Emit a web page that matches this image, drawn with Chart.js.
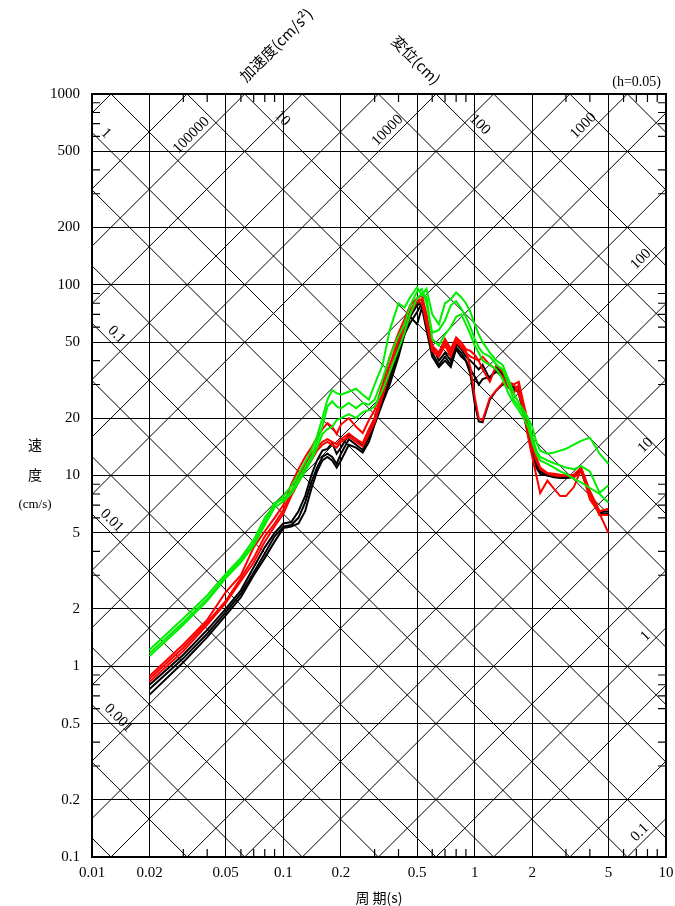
<!DOCTYPE html>
<html>
<head>
<meta charset="utf-8">
<script src="https://cdn.jsdelivr.net/npm/chart.js@4.4.0/dist/chart.umd.min.js"></script>
<style>
  html, body { margin: 0; padding: 0; background: #fff; }
  canvas { display: block; }
</style>
</head>
<body>
<canvas id="chart" width="675" height="906"></canvas>
<script>
// periods (s)
const periods = [0.02, 0.03, 0.04, 0.05, 0.06, 0.07, 0.08, 0.09, 0.1,
  0.11, 0.12, 0.13, 0.14, 0.15, 0.16, 0.17, 0.18, 0.19, 0.2,
  0.22, 0.24, 0.26, 0.28, 0.3,
  0.33, 0.36, 0.4, 0.43, 0.46,
  0.5, 0.53, 0.56, 0.6, 0.65,
  0.7, 0.75, 0.8, 0.85, 0.9,
  0.95, 1.0, 1.05, 1.1, 1.2,
  1.3, 1.4, 1.5, 1.6, 1.7,
  1.8, 1.9, 2.0, 2.1, 2.2,
  2.4, 2.6, 2.8, 3.0, 3.3,
  3.6, 4.0, 4.5, 5.0];

// velocity response (cm/s)
const green1 = [1.22, 1.78, 2.35, 3.05, 3.7, 4.6, 6.0, 7.0, 7.8,
  8.8, 10.2, 11.8, 13.5, 16, 20, 25, 28, 27, 26.5,
  27.5, 28.5, 26.5, 25, 30,
  38, 58, 80, 76, 86,
  97, 88, 95, 70, 62,
  80, 84, 91, 86, 80,
  72, 62, 55, 50, 44,
  40, 38, 32, 27, 24,
  22, 20, 18, 15, 13.5,
  13, 13.2, 13.5, 13.8, 14.5,
  15.2, 15.8, 13, 11.5];
const green2 = [1.17, 1.7, 2.25, 2.95, 3.6, 4.4, 5.7, 7.2, 7.5,
  8.3, 9.6, 11, 12.5, 15, 18, 23, 24.5, 23, 22.5,
  24, 22.5, 24, 23.5, 25,
  32, 42, 54, 62, 78,
  92, 95, 80, 56, 58,
  65, 78, 82, 75, 68,
  60, 52, 47, 44, 42,
  38, 36, 30, 25, 23,
  21, 19.5, 16, 13.5, 12.5,
  12, 11.6, 11.3, 11, 10.8,
  11.2, 10.5, 8.1, 8.9];
const green3 = [1.13, 1.65, 2.2, 2.9, 3.5, 4.3, 5.5, 6.8, 7.3,
  8, 9.2, 10.5, 12, 14, 16.5, 17.5, 18, 19.5, 20,
  21, 20, 21.5, 22, 23,
  28, 35, 46, 56, 70,
  85, 90, 86, 52, 48,
  55, 60, 68, 70, 62,
  55, 48, 44, 40, 38,
  36, 32, 27, 24, 22,
  20, 18, 15, 13, 12,
  11.5, 11, 10.5, 10.2, 9.6,
  9.2, 8.6, 8.0, 7.2];
const red1 = [0.89, 1.3, 1.75, 2.45, 3.0, 4.2, 5.1, 6.0, 7.0,
  9.0, 10.8, 12.5, 14, 15.8, 17.5, 18.8, 18, 16.5, 18.5,
  20, 18, 16.7, 19.5, 22,
  30, 42, 56, 66, 78,
  85, 88, 70, 48, 44,
  52, 46, 53, 50, 46,
  45, 43, 40, 36, 31,
  38, 35, 31, 30, 31,
  24, 19, 15, 12.5, 11,
  10.3, 10.2, 10.1, 10, 10.1,
  11, 8.3, 6.5, 6.7];
const red2 = [0.86, 1.25, 1.7, 2.2, 2.9, 3.7, 4.8, 5.6, 6.6,
  8.2, 9.8, 11.5, 13, 14, 15, 15.5, 15, 14.6, 15.5,
  16.6, 15.5, 14.8, 17.5, 20,
  28, 38, 52, 62, 74,
  83, 84, 65, 45, 42,
  48, 42, 50, 47, 44,
  42, 41, 40, 42, 38,
  36, 33, 29, 27, 30,
  22, 18, 14, 12, 10.8,
  10.2, 10, 9.9, 10, 9.8,
  10.5, 8, 6.2, 6.2];
const red3 = [0.83, 1.2, 1.65, 2.15, 2.8, 3.5, 4.5, 5.4, 6.3,
  7.8, 9.2, 10.8, 12, 13.5, 14.5, 15, 14.5, 14, 15,
  16, 15, 14.2, 16.5, 19,
  26, 35, 50, 58, 70,
  82, 80, 62, 46, 43,
  50, 44, 52, 48, 45,
  37, 26, 20, 19.5, 25.5,
  28, 30.5, 30, 30, 27,
  22, 16, 12.5, 10, 8.1,
  9.4, 8.5, 7.8, 7.8, 8.7,
  10.8, 7.5, 6.3, 5.0];
const black1 = [0.80, 1.15, 1.55, 2.0, 2.5, 3.3, 4.2, 5.0, 5.6,
  5.7, 6.5, 7.8, 10, 12, 13.5, 13.8, 14.8, 13, 14,
  16.4, 15.5, 14.3, 16.5, 20,
  27, 34, 48, 58, 68,
  78, 81, 68, 48, 40,
  44, 40, 49, 46, 42,
  40, 38, 36, 38, 32,
  37, 34, 30, 29, 29,
  22, 18, 14, 12, 10.8,
  10.2, 10.1, 10, 9.9, 10,
  10.8, 8.2, 6.4, 6.5];
const black2 = [0.76, 1.1, 1.48, 1.92, 2.4, 3.1, 3.9, 4.8, 5.4,
  5.5, 6.0, 7.2, 9.2, 11, 12.5, 13, 12.5, 11.5, 13,
  15.5, 14.5, 13.6, 15.8, 19,
  25, 32, 45, 55, 63,
  72, 80, 60, 44, 38,
  42, 38, 47, 44, 40,
  36, 33, 30, 32, 33,
  35, 33, 29, 28, 28,
  21, 17, 13.5, 11.5, 10.5,
  10, 9.9, 9.8, 9.8, 9.9,
  10.5, 8, 6.2, 6.3];
const black3 = [0.71, 1.05, 1.42, 1.85, 2.3, 3.0, 3.7, 4.5, 5.3,
  5.4, 5.6, 6.5, 8.5, 10.5, 12, 12.5, 12, 11, 12,
  14.5, 14, 13.2, 15, 18.5,
  24, 30, 42, 55, 68,
  62, 76, 58, 42, 37,
  40, 37, 46, 42, 40,
  34, 24, 19.2, 19, 25,
  28, 30, 30, 29, 27,
  21, 16.5, 13, 11, 10.2,
  10, 9.8, 9.7, 9.7, 9.8,
  10.6, 8.1, 6.3, 6.2];

// axes
const xTicks = [0.01, 0.02, 0.05, 0.1, 0.2, 0.5, 1, 2, 5, 10];
const xTickLabels = ['0.01', '0.02', '0.05', '0.1', '0.2', '0.5', '1', '2', '5', '10'];
const yTicks = [0.1, 0.2, 0.5, 1, 2, 5, 10, 20, 50, 100, 200, 500, 1000];
const yTickLabels = ['0.1', '0.2', '0.5', '1', '2', '5', '10', '20', '50', '100', '200', '500', '1000'];
const xMinorTicks = [0.03, 0.04, 0.06, 0.07, 0.08, 0.09, 0.3, 0.4, 0.6, 0.7, 0.8, 0.9, 3, 4, 6, 7, 8, 9];
const yMinorTicks = [0.3, 0.4, 0.6, 0.7, 0.8, 0.9, 3, 4, 6, 7, 8, 9, 30, 40, 60, 70, 80, 90, 300, 400, 600, 700, 800, 900];

// tripartite lines: displacement (cm) and acceleration (cm/s2)
const dispLines = [0.0001, 0.0002, 0.0005, 0.001, 0.002, 0.005, 0.01, 0.02, 0.05, 0.1, 0.2, 0.5,
  1, 2, 5, 10, 20, 50, 100, 200, 500, 1000];
const accLines = [0.1, 0.2, 0.5, 1, 2, 5, 10, 20, 50, 100, 200, 500, 1000, 2000, 5000,
  10000, 20000, 50000, 100000, 200000, 500000];
const dispLabels = [
  { value: 1, period: 0.011, text: '1' },
  { value: 0.1, period: 0.0125, text: '0.1' },
  { value: 0.01, period: 0.0118, text: '0.01' },
  { value: 0.001, period: 0.0128, text: '0.001' },
  { value: 10, period: 0.092, text: '10' },
  { value: 100, period: 0.99, text: '100' },
];
const accLabels = [
  { value: 100000, period: 0.0355, text: '100000' },
  { value: 10000, period: 0.376, text: '10000' },
  { value: 1000, period: 3.98, text: '1000' },
  { value: 100, period: 7.95, text: '100' },
  { value: 10, period: 8.4, text: '10' },
  { value: 1, period: 8.4, text: '1' },
  { value: 0.1, period: 7.85, text: '0.1' },
];

const TWO_PI = 2 * Math.PI;
const serif = '"Liberation Serif", serif';
const cjk = '"Noto Sans CJK JP", sans-serif';

const series = (values, color) => ({
  data: periods.map((t, i) => ({ x: t, y: values[i] })),
  borderColor: color,
  borderWidth: 2,
  pointRadius: 0,
  tension: 0,
  fill: false,
});

const tripartite = {
  id: 'tripartite',
  beforeDatasetsDraw(chart) {
    const { ctx, chartArea: a, scales: { x, y } } = chart;
    const seg = (t0, v0, t1, v1) => {
      ctx.beginPath();
      ctx.moveTo(x.getPixelForValue(t0), y.getPixelForValue(v0));
      ctx.lineTo(x.getPixelForValue(t1), y.getPixelForValue(v1));
      ctx.stroke();
    };
    ctx.save();
    ctx.beginPath();
    ctx.rect(a.left, a.top, a.right - a.left, a.bottom - a.top);
    ctx.clip();
    ctx.strokeStyle = '#000';
    ctx.lineWidth = 1;
    const ta = 0.001, tb = 100;
    dispLines.forEach(d => seg(ta, TWO_PI * d / ta, tb, TWO_PI * d / tb));
    accLines.forEach(g => seg(ta, g * ta / TWO_PI, tb, g * tb / TWO_PI));

    // minor ticks along the frame
    ctx.lineWidth = 1.2;
    xMinorTicks.forEach(t => {
      const px = x.getPixelForValue(t);
      ctx.beginPath();
      ctx.moveTo(px, a.top); ctx.lineTo(px, a.top + 8);
      ctx.moveTo(px, a.bottom); ctx.lineTo(px, a.bottom - 8);
      ctx.stroke();
    });
    yMinorTicks.forEach(v => {
      const py = y.getPixelForValue(v);
      ctx.beginPath();
      ctx.moveTo(a.left, py); ctx.lineTo(a.left + 8, py);
      ctx.moveTo(a.right, py); ctx.lineTo(a.right - 8, py);
      ctx.stroke();
    });
    ctx.restore();

    // labels on the diagonal lines
    ctx.save();
    ctx.fillStyle = '#000';
    ctx.font = '15px ' + serif;
    ctx.textAlign = 'center';
    ctx.textBaseline = 'middle';
    dispLabels.forEach(l => {
      const px = x.getPixelForValue(l.period);
      const py = y.getPixelForValue(TWO_PI * l.value / l.period);
      ctx.save();
      ctx.translate(px + 6, py - 7);
      ctx.rotate(Math.PI / 4);
      ctx.fillText(l.text, 0, 0);
      ctx.restore();
    });
    accLabels.forEach(l => {
      const px = x.getPixelForValue(l.period);
      const py = y.getPixelForValue(l.value * l.period / TWO_PI);
      ctx.save();
      ctx.translate(px - 6, py - 6);
      ctx.rotate(-Math.PI / 4);
      ctx.fillText(l.text, 0, 0);
      ctx.restore();
    });

    // frame
    ctx.lineWidth = 2;
    ctx.strokeStyle = '#000';
    ctx.strokeRect(a.left, a.top, a.right - a.left, a.bottom - a.top);
    ctx.restore();
  },
  afterDraw(chart) {
    const { ctx, chartArea: a } = chart;
    ctx.save();
    ctx.fillStyle = '#000';
    ctx.textAlign = 'center';
    ctx.textBaseline = 'middle';
    ctx.font = '14px ' + cjk;
    ctx.fillText('速', 35, 445);
    ctx.fillText('度', 35, 475);
    ctx.font = '13px ' + serif;
    ctx.fillText('(cm/s)', 35, 505);

    ctx.font = '14px ' + serif;
    ctx.textAlign = 'right';
    ctx.fillText('(h=0.05)', a.right - 5, a.top - 12);

    ctx.textAlign = 'center';
    ctx.font = '15px ' + cjk;
    ctx.save();
    ctx.translate(276, 45);
    ctx.rotate(-Math.PI / 4);
    ctx.fillText('加速度(cm/s²)', 0, 0);
    ctx.restore();
    ctx.save();
    ctx.translate(416, 60);
    ctx.rotate(Math.PI / 4);
    ctx.fillText('変位(cm)', 0, 0);
    ctx.restore();
    ctx.restore();
  },
};

new Chart(document.getElementById('chart'), {
  type: 'line',
  data: {
    datasets: [
      series(green1, '#00ee00'),
      series(green2, '#00ee00'),
      series(green3, '#00ee00'),
      series(red1, '#ff0000'),
      series(red2, '#ff0000'),
      series(red3, '#ff0000'),
      series(black1, '#000000'),
      series(black2, '#000000'),
      series(black3, '#000000'),
    ],
  },
  options: {
    responsive: false,
    animation: false,
    layout: { padding: { top: 94, right: 9, left: 0, bottom: 0 } },
    plugins: { legend: { display: false }, tooltip: { enabled: false } },
    scales: {
      x: {
        type: 'logarithmic',
        min: 0.01,
        max: 10,
        afterBuildTicks: s => { s.ticks = xTicks.map(v => ({ value: v })); },
        afterFit: s => { s.height = 49; s.paddingLeft = 0; s.paddingRight = 0; },
        ticks: {
          autoSkip: false, maxRotation: 0, padding: 7, color: '#000',
          font: { family: serif, size: 15 },
          callback: (v, i) => xTickLabels[i],
        },
        grid: { color: '#000', lineWidth: 1, drawTicks: false },
        border: { display: false },
        title: {
          display: true, text: '周 期(s)', color: '#000',
          font: { family: cjk, size: 14 }, padding: { top: 0, bottom: 0 },
        },
      },
      y: {
        type: 'logarithmic',
        min: 0.1,
        max: 1000,
        afterBuildTicks: s => { s.ticks = yTicks.map(v => ({ value: v })); },
        afterFit: s => { s.width = 92; s.paddingTop = 0; s.paddingBottom = 0; },
        ticks: {
          autoSkip: false, padding: 12, color: '#000',
          font: { family: serif, size: 15 },
          callback: (v, i) => yTickLabels[i],
        },
        grid: { color: '#000', lineWidth: 1, drawTicks: false },
        border: { display: false },
      },
    },
  },
  plugins: [tripartite],
});
</script>
</body>
</html>
